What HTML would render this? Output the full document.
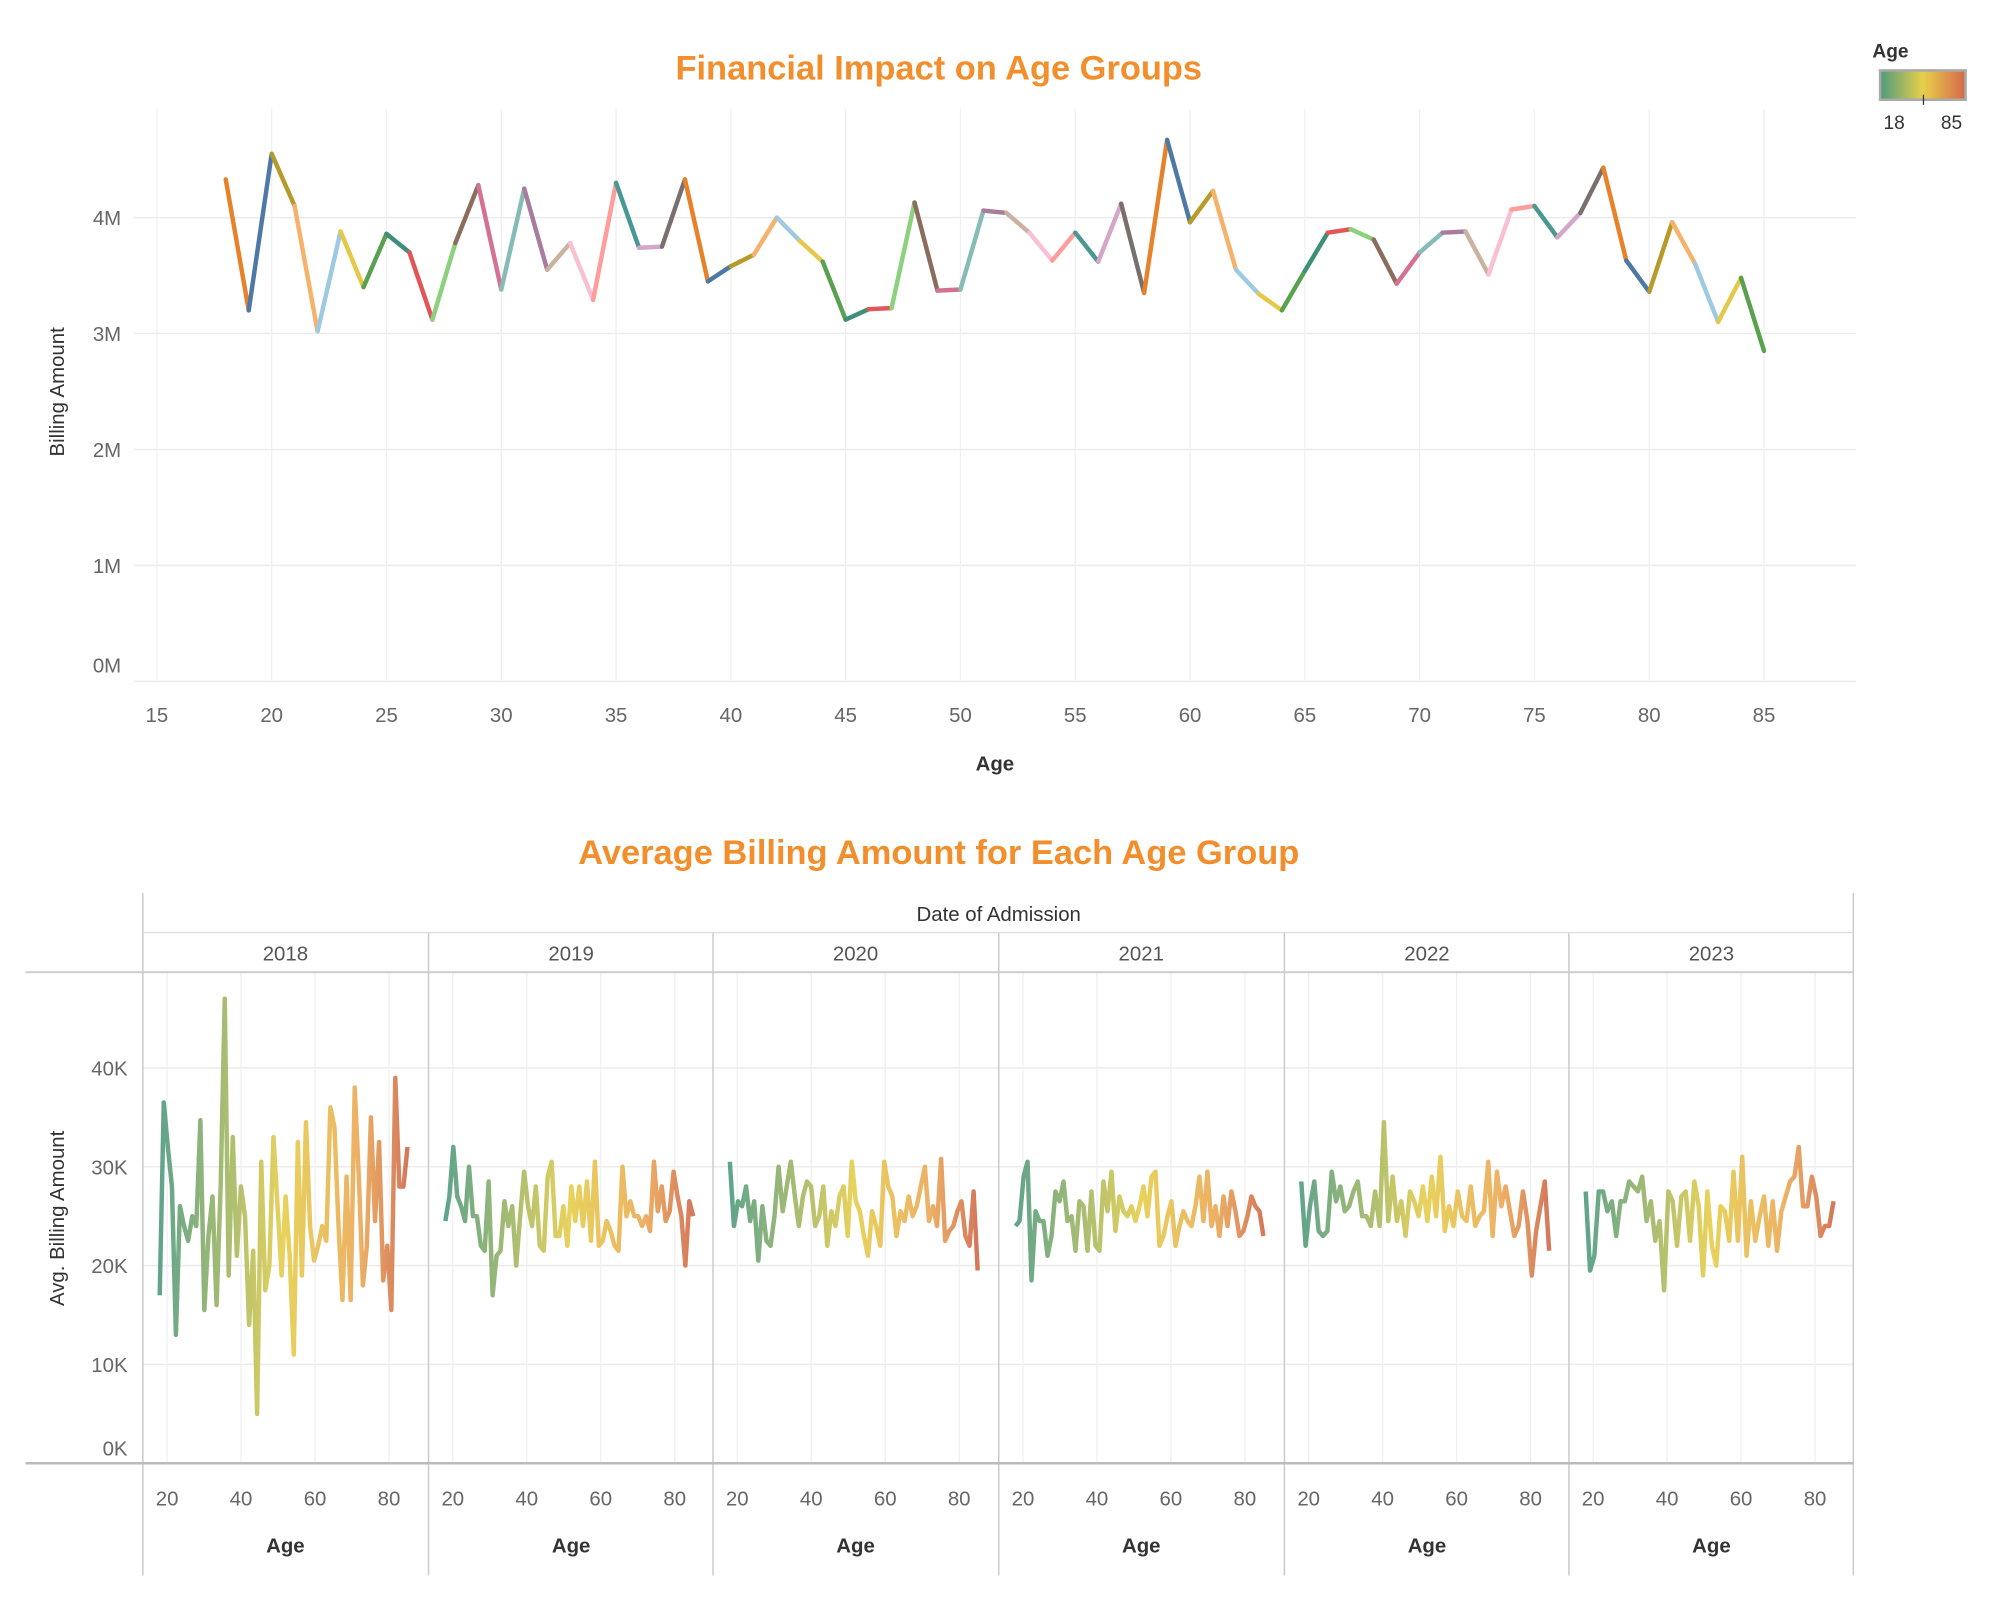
<!DOCTYPE html>
<html><head><meta charset="utf-8"><style>
html,body{margin:0;padding:0;background:#fff;}
svg{display:block;font-family:"Liberation Sans",sans-serif;}
</style></head><body>
<svg id="chart" width="2000" height="1600" viewBox="0 0 1568 1254" xmlns="http://www.w3.org/2000/svg">
<defs>
<linearGradient id="legendGrad" x1="0" x2="1" y1="0" y2="0">
<stop offset="0" stop-color="#4e9a7e"/><stop offset="0.5" stop-color="#e8cf4a"/><stop offset="1" stop-color="#d4694a"/>
</linearGradient>
</defs>
<text x="736" y="62" text-anchor="middle" font-size="27" font-weight="bold" fill="#f28e2b">Financial Impact on Age Groups</text>
<g>
<text x="1468" y="45" font-size="15" font-weight="bold" fill="#333">Age</text>
<rect x="1474" y="55" width="67" height="23" fill="url(#legendGrad)" stroke="#aaa" stroke-width="2"/>
<line x1="1508" y1="74" x2="1508" y2="82" stroke="#333"/>
<text x="1485" y="101" text-anchor="middle" font-size="15" fill="#333">18</text>
<text x="1530" y="101" text-anchor="middle" font-size="15" fill="#333">85</text>
</g>
<g id="topchart"></g>
<text x="736" y="677" text-anchor="middle" font-size="27" font-weight="bold" fill="#f28e2b">Average Billing Amount for Each Age Group</text>
<g id="bottom"></g>
</svg>
<script>
const topAges = [];
for (let a = 18; a <= 85; a++) topAges.push(a);
const topBilling = [4.33,3.2,4.55,4.1,3.02,3.88,3.4,3.86,3.7,3.12,3.78,4.28,3.38,4.25,3.55,3.78,3.29,4.3,3.74,3.75,4.33,3.45,3.58,3.68,4.0,3.8,3.62,3.12,3.21,3.22,4.13,3.37,3.38,4.06,4.04,3.87,3.63,3.87,3.62,4.12,3.35,4.67,3.96,4.23,3.55,3.34,3.2,3.54,3.87,3.9,3.81,3.43,3.7,3.87,3.88,3.51,4.07,4.1,3.83,4.04,4.43,3.63,3.36,3.96,3.6,3.1,3.48,2.85];
const topXTicks = [15,20,25,30,35,40,45,50,55,60,65,70,75,80,85];
const topYTicks = [0,1,2,3,4];
const palette = ["#e8822a","#4e79a7","#b79a2a","#f6b26b","#9ecae1","#e5c84a","#59a14f","#3d8f7a","#e15759","#8cd17d","#8a6d5c","#d37295","#86bcb6","#a87c9f","#c9b2a0","#fabfd2","#ff9d9a","#499894","#d4a6c8","#79706e"];

const years = ["2018","2019","2020","2021","2022","2023"];
const avg2018 = [17,36.5,32,28,13,26,24,22.5,25,24,34.7,15.5,23,27,16,28,47,19,33,21,28,25,14,21.5,5,30.5,17.5,20,33,26,19,27,21,11,32.5,19,34.5,24,20.5,22,24,22.5,36,34,24,16.5,29,16.5,38,29,18,22,35,24.5,32.5,18.5,22,15.5,39,28,28,32];
const avg2019 = [24.5,27,32,27,26,24.5,30,25,25,22,21.5,28.5,17,21,21.5,26.5,24,26,20,25,29.5,26,24,28,22,21.5,29,30.5,23,23,26,22,28,24.5,28,24,28.5,22.5,30.5,22,22.5,24.5,23.5,22,21.5,30,25,26.5,25,25,24,25,23.5,30.5,25.5,28,24.5,25.5,29.5,27,25,20,26.5,25];
const avg2020 = [30.5,24,26.5,26,28,24.5,26.5,20.5,26,22.5,22,25,30,25.5,28,30.5,27,24,27,28.5,28,24,25,28,22,25.5,24,27,28,23,30.5,26.5,25.5,23,21,25.5,24,22,30.5,28,27,23,25.5,24.5,27,25,26,28,30,24.5,26,24,30.8,22.5,23.5,24,25.5,26.5,23,22,27.5,19.5];
const avg2021 = [24,24.5,29,30.5,18.5,25.5,24.5,24.5,21,23,27.5,26.5,28.5,24.5,25,21.5,26.5,26,21.5,27.5,22,21.5,28.5,25.5,29.5,23.5,27,25.5,25,26,24.5,26,28,25,29,29.5,22,23,25,26.5,22,24,25.5,24.5,24,26,29,24.5,29.5,24,26,23,27,24,27.5,25.5,23,23.5,25,27,26,25.5,23];
const avg2022 = [28.5,22,26,28.5,23.5,23,23.5,29.5,26.5,28,25.5,26,27.5,28.5,25,25,24,27.5,24,34.5,24.5,29,24.5,26.5,23,27.5,26.5,25,28,24.5,29,25,31,23.5,26,24,27.5,25,24.5,28,24,25,25.5,30.5,23,29.5,26,28,25.5,23,24,27.5,24.5,19,23.5,26,28.5,21.5];
const avg2023 = [27.5,19.5,21,27.5,27.5,25.5,26.5,23,26.5,26.5,28.5,28,27.5,29,24.5,26.5,22.5,24.5,17.5,27.5,26.5,22,27,27.5,22.5,28.5,26,19,27.5,22,20,26,25.5,22.5,29.5,22.5,31,21,26.5,22.5,25,27,22,26.5,21.5,25.5,27,28.5,29,32,26,26,29,27,23,24,24,26.5];
const panelData = [avg2018, avg2019, avg2020, avg2021, avg2022, avg2023];
const bottomXTicks = [20,40,60,80];
const bottomYTicks = [0,10,20,30,40];

const NS = "http://www.w3.org/2000/svg";
function mk(tag, attrs, parent) {
  const e = document.createElementNS(NS, tag);
  for (const k in attrs) e.setAttribute(k, attrs[k]);
  parent.appendChild(e);
  return e;
}
const tx = a => 123 + (a - 15) * 18;
const ty = v => 534 - v * 90.9;
const topG = document.getElementById('topchart');
topYTicks.forEach(v => {
  const l = mk('line', {x1:105, x2:1455, y1:ty(v), y2:ty(v), stroke:'#ececec', 'stroke-width':1.2}, topG);
  
  
  const t = mk('text', {x:95, y:ty(v)+ (v===0?-7:6), 'text-anchor':'end', 'font-size':16, fill:'#666'}, topG);
  t.textContent = v + 'M';
  
  
});
topXTicks.forEach(a => {
  const l = mk('line', {x1:tx(a), x2:tx(a), y1:85, y2:534, stroke:'#f0f0f0', 'stroke-width':1}, topG);
  
  
  const t = mk('text', {x:tx(a), y:566, 'text-anchor':'middle', 'font-size':16, fill:'#666'}, topG);
  t.textContent = a;
  
  
});
const tt = mk('text', {x:780, y:604, 'text-anchor':'middle', 'font-size':16, 'font-weight':'bold', fill:'#333'}, topG);
tt.textContent = 'Age';


const ty1 = mk('text', {x:0, y:0, transform:'translate(50,307) rotate(-90)', 'text-anchor':'middle', 'font-size':16, fill:'#333'}, topG);
ty1.textContent = 'Billing Amount';


for (let i = 0; i < topBilling.length - 1; i++) {
  const s = mk('line', {x1:tx(topAges[i]), y1:ty(topBilling[i]), x2:tx(topAges[i+1]), y2:ty(topBilling[i+1]), stroke:palette[i % palette.length], 'stroke-width':3.5, 'stroke-linecap':'round'}, topG);
  
  
}

const bot = document.getElementById('bottom');
const pLeft = [112,336,559,783,1007,1230];
const pW = 223.5;
const by = v => 1147 - v * 7.75;
const bx = (p, a) => pLeft[p] + 19 + (a - 20) * 2.9;
const defs = document.querySelector('defs');
years.forEach((y, p) => {
  const g = mk('linearGradient', {id:'pg'+p, gradientUnits:'userSpaceOnUse', x1:bx(p,18), x2:bx(p,85), y1:0, y2:0}, defs);
  mk('stop', {offset:0, 'stop-color':'#4e9a7e'}, g);
  mk('stop', {offset:0.5, 'stop-color':'#e5cd4a'}, g);
  mk('stop', {offset:0.8, 'stop-color':'#eba954'}, g);
  mk('stop', {offset:1, 'stop-color':'#cf6a4a'}, g);
});
bottomYTicks.forEach(v => {
  const l = mk('line', {x1:112, x2:1453, y1:by(v), y2:by(v), stroke:'#ececec', 'stroke-width':1.2}, bot);
  
  
  const t = mk('text', {x:100, y:by(v)+(v===0?-6:6), 'text-anchor':'end', 'font-size':16, fill:'#666'}, bot);
  t.textContent = v + 'K';
  
  
});
years.forEach((yr, p) => {
  bottomXTicks.forEach(a => {
    const l = mk('line', {x1:bx(p,a), x2:bx(p,a), y1:762, y2:1147, stroke:'#f0f0f0'}, bot);
    
    
    const t = mk('text', {x:bx(p,a), y:1180, 'text-anchor':'middle', 'font-size':16, fill:'#666'}, bot);
    t.textContent = a;
    
    
  });
  const yl = mk('text', {x:pLeft[p]+pW/2, y:753, 'text-anchor':'middle', 'font-size':16, fill:'#555'}, bot);
  yl.textContent = yr;
  
  
  const al = mk('text', {x:pLeft[p]+pW/2, y:1217, 'text-anchor':'middle', 'font-size':16, 'font-weight':'bold', fill:'#333'}, bot);
  al.textContent = 'Age';
  
  
  const vals = panelData[p];
  const pts = vals.map((v, i) => bx(p, 18 + i * 67 / (vals.length - 1)).toFixed(1) + ',' + by(v).toFixed(1)).join(' ');
  const pl = mk('polyline', {points:pts, fill:'none', stroke:'url(#pg'+p+')', 'stroke-width':3.5, 'stroke-linejoin':'round', opacity:0.9}, bot);
  
  
});
for (let p = 0; p <= 6; p++) {
  const x = p < 6 ? pLeft[p] : 1453;
  const l = mk('line', {x1:x, x2:x, y1:(p===0||p===6)?700:731, y2:1235, stroke:'#ccc', 'stroke-width':1.2}, bot);
  
  
}
[[112,731,1453,731,'#ddd',1],[20,762,1453,762,'#ccc',1.5],[20,1147,1453,1147,'#bbb',2]].forEach(d => {
  const l = mk('line', {x1:d[0], y1:d[1], x2:d[2], y2:d[3], stroke:d[4], 'stroke-width':d[5]}, bot);
  
  
});
const dh = mk('text', {x:783, y:722, 'text-anchor':'middle', 'font-size':16, fill:'#333'}, bot);
dh.textContent = 'Date of Admission';


const by1 = mk('text', {x:0, y:0, transform:'translate(50,955) rotate(-90)', 'text-anchor':'middle', 'font-size':16, fill:'#333'}, bot);
by1.textContent = 'Avg. Billing Amount';


</script>
</body></html>
